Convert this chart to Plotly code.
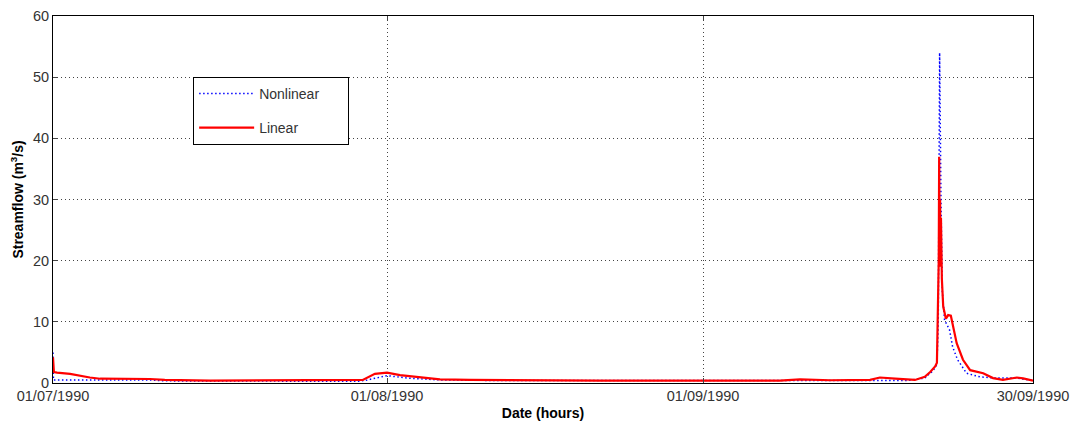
import plotly.graph_objects as go

# Hour index since 01/07/1990 00:00
tick_hours = [0, 744, 1448, 2183]
tick_labels = ["01/07/1990", "01/08/1990", "01/09/1990", "30/09/1990"]

linear_hours = [0, 2, 9, 38, 82, 105, 216, 249, 350, 550, 684, 690, 717, 744, 773, 818,
                862, 929, 996, 1218, 1441, 1619, 1664, 1731, 1820, 1842, 1876, 1920,
                1942, 1954, 1965, 1969, 1973, 1974, 1975, 1976, 1977, 1978, 1980, 1983,
                1989, 1994, 2000, 2013, 2027, 2043, 2072, 2094, 2116, 2147, 2161, 2183]
linear_flow = [4.2, 1.8, 1.7, 1.5, 0.9, 0.7, 0.65, 0.5, 0.4, 0.4, 0.45, 0.5, 1.5, 1.7, 1.3, 0.9,
               0.6, 0.5, 0.45, 0.4, 0.4, 0.4, 0.6, 0.45, 0.5, 0.9, 0.7, 0.5,
               1.0, 1.8, 2.7, 3.3, 20, 37, 22, 30, 19, 27, 17, 12.5,
               10.5, 11.1, 11, 6.5, 3.8, 2.1, 1.6, 0.8, 0.5, 0.9, 0.75, 0.4]

nonlinear_hours = [0, 1, 216, 250, 550, 684, 700, 744, 790, 862, 1000, 1618, 1664, 1840,
                   1900, 1942, 1960, 1969, 1972, 1975, 1976, 1978, 1981, 1986, 1997, 2004,
                   2015, 2035, 2049, 2065, 2100, 2147, 2183]
nonlinear_flow = [5.0, 0.5, 0.5, 0.35, 0.3, 0.3, 0.5, 1.2, 0.8, 0.5, 0.4, 0.4, 0.5, 0.5,
                  0.4, 0.8, 2.0, 3.0, 10, 54, 38, 30, 15, 10.3, 8.7, 5.9,
                  3.8, 1.6, 1.3, 1.0, 0.8, 0.8, 0.4]

pad = "\u00a0" * 6

fig = go.Figure()
fig.add_trace(go.Scatter(x=nonlinear_hours, y=nonlinear_flow, mode="lines", name="Nonlinear" + pad,
                         line=dict(color="#0000ff", width=1.5, dash="1.5px,2.5px"), legendgroup="a"))
fig.add_trace(go.Scatter(x=linear_hours, y=linear_flow, mode="lines", name="Linear",
                         line=dict(color="#ff0000", width=2.2), legendgroup="b"))

axis_common = dict(showline=True, linecolor="black", linewidth=1, mirror="ticks",
                   ticks="inside", ticklen=5, tickcolor="#444",
                   showgrid=True, gridcolor="#444", griddash="1px,3px", gridwidth=1,
                   zeroline=False,
                   tickfont=dict(family="Arial, Liberation Sans", size=14.5, color="#333"))

fig.update_xaxes(range=[0, 2183], tickvals=tick_hours, ticktext=tick_labels,
                 title=dict(text="<b>Date (hours)</b>", standoff=4,
                            font=dict(family="Arial, Liberation Sans", size=14, color="black")),
                 **axis_common)
fig.update_yaxes(range=[0, 60], tickvals=[0, 10, 20, 30, 40, 50, 60],
                 title=dict(text="<b>Streamflow (m<sup>3</sup>/s)</b>", standoff=6,
                            font=dict(family="Arial, Liberation Sans", size=14, color="black")),
                 **axis_common)

fig.update_layout(
    width=1073, height=422,
    margin=dict(l=53, r=40, t=16, b=39, autoexpand=False),
    plot_bgcolor="white", paper_bgcolor="white",
    showlegend=True,
    legend=dict(x=0.143, y=0.834, xanchor="left", yanchor="top",
                bgcolor="white", bordercolor="black", borderwidth=1,
                font=dict(family="Arial, Liberation Sans", size=14, color="#333"),
                tracegroupgap=13, itemwidth=55),
)

fig.write_html("out.html", config={"displayModeBar": False},
               post_script="document.body.style.margin='0';document.body.style.overflow='hidden';")
